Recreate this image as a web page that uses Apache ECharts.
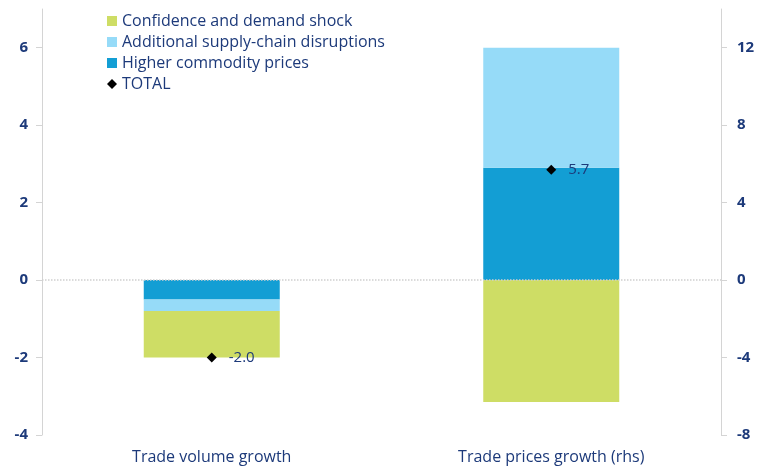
<!DOCTYPE html>
<html>
<head>
<meta charset="UTF-8">
<title>Trade volume and prices</title>
<script src="https://cdn.jsdelivr.net/npm/echarts@6/dist/echarts.min.js"></script>
<style>
  html, body { margin: 0; padding: 0; background: #fff; }
  #main { width: 761px; height: 466px; }
</style>
</head>
<body>
<div id="main"></div>
<script>
// categories
var categories = ['Trade volume growth', 'Trade prices growth (rhs)'];
// contributions, lhs (trade volume)
var volCommodity = [-0.5, '-'];
var volSupply = [-0.3, '-'];
var volConfidence = [-1.2, '-'];
var volTotal = [-2.0, '-'];
// contributions, rhs (trade prices)
var priceCommodity = ['-', 5.8];
var priceSupply = ['-', 6.2];
var priceConfidence = ['-', -6.3];
var priceTotal = ['-', 5.7];
// tick labels
var leftTicks = [-4, -2, 0, 2, 4, 6];
var rightTicks = [-8, -4, 0, 4, 8, 12];

var navy = '#1d3a7a';
var font = 'Open Sans';
var cGreen = '#cedd65';
var cLight = '#96dbf8';
var cDark = '#139ed4';

var myChart = echarts.init(document.getElementById('main'));

function bar(name, data, axis, stack, color) {
    return {
        name: name,
        type: 'bar',
        yAxisIndex: axis,
        stack: stack,
        data: data,
        barWidth: 136,
        barGap: '-100%',
        itemStyle: { color: color },
        emphasis: { disabled: true }
    };
}
function total(data, axis) {
    return {
        name: 'TOTAL',
        type: 'scatter',
        yAxisIndex: axis,
        data: data,
        symbol: 'diamond',
        symbolSize: 10,
        z: 5,
        itemStyle: { color: '#000', opacity: 1 },
        label: {
            show: true,
            position: 'right',
            distance: 12,
            color: navy,
            fontFamily: font,
            fontSize: 15,
            formatter: function (p) { return p.value.toFixed(1); }
        }
    };
}

var volFirst = bar('Higher commodity prices', volCommodity, 0, 'vol', cDark);
volFirst.markLine = {
    silent: true,
    symbol: 'none',
    label: { show: false },
    lineStyle: { color: '#cfcfcf', type: 'dotted', width: 1.5 },
    data: [{ yAxis: 0 }]
};

var option = {
    animation: false,
    textStyle: { fontFamily: font },
    grid: { left: 42, right: 40, top: 9, bottom: 31 },
    legend: {
        orient: 'vertical',
        left: 102,
        top: 8,
        itemWidth: 10,
        itemHeight: 10,
        itemGap: 5,
        icon: 'rect',
        textStyle: { color: navy, fontSize: 16, fontFamily: font },
        data: [
            { name: 'Confidence and demand shock' },
            { name: 'Additional supply-chain disruptions' },
            { name: 'Higher commodity prices' },
            { name: 'TOTAL', icon: 'diamond', itemStyle: { color: '#000', opacity: 1 } }
        ]
    },
    xAxis: {
        type: 'category',
        data: categories,
        axisLine: { show: false, onZero: false },
        axisTick: { show: false },
        axisLabel: { color: navy, fontSize: 16, margin: 14, fontFamily: font }
    },
    yAxis: [
        {
            type: 'value',
            min: -4,
            max: 7,
            position: 'left',
            splitLine: { show: false },
            axisLine: { show: true, lineStyle: { color: '#d4d4d4' } },
            axisTick: { show: true, length: 6, customValues: leftTicks, lineStyle: { color: '#d4d4d4' } },
            axisLabel: { customValues: leftTicks, color: navy, fontWeight: 'bold', fontSize: 15, margin: 14, fontFamily: font }
        },
        {
            type: 'value',
            min: -8,
            max: 14,
            position: 'right',
            splitLine: { show: false },
            axisLine: { show: true, lineStyle: { color: '#d4d4d4' } },
            axisTick: { show: true, length: 6, customValues: rightTicks, lineStyle: { color: '#d4d4d4' } },
            axisLabel: { customValues: rightTicks, color: navy, fontWeight: 'bold', fontSize: 15, margin: 16, fontFamily: font }
        }
    ],
    series: [
        volFirst,
        bar('Additional supply-chain disruptions', volSupply, 0, 'vol', cLight),
        bar('Confidence and demand shock', volConfidence, 0, 'vol', cGreen),
        bar('Higher commodity prices', priceCommodity, 1, 'price', cDark),
        bar('Additional supply-chain disruptions', priceSupply, 1, 'price', cLight),
        bar('Confidence and demand shock', priceConfidence, 1, 'price', cGreen),
        total(volTotal, 0),
        total(priceTotal, 1)
    ]
};
myChart.setOption(option);
</script>
</body>
</html>
